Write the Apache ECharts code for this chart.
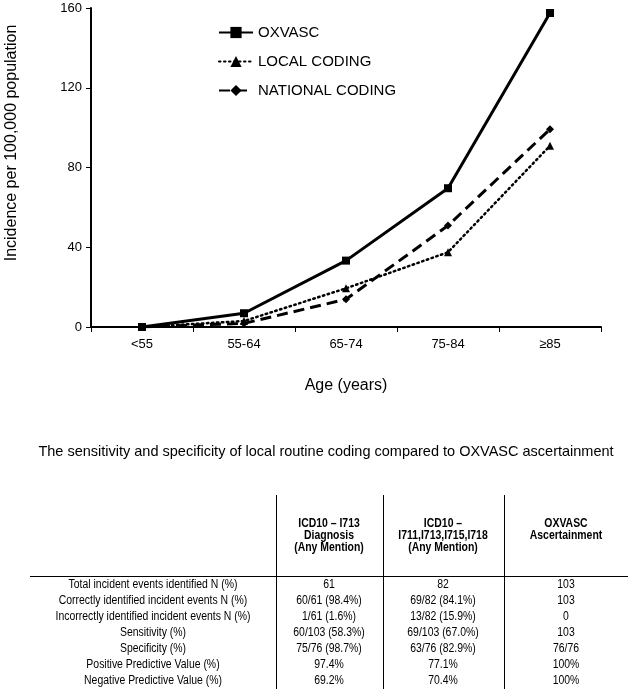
<!DOCTYPE html>
<html>
<head>
<meta charset="utf-8">
<style>
html,body{margin:0;padding:0;background:#fff;}
#chart{width:628px;height:689px;}
</style>
<script src="https://cdn.jsdelivr.net/npm/echarts@6/dist/echarts.min.js"></script>
</head>
<body>
<div id="chart"></div>
<script>
// ---- data ----
var categories = ['<55', '55-64', '65-74', '75-84', '\u226585'];
var oxvasc = [0, 6.9, 33.3, 69.6, 157.5];
var localCoding = [0, 3.0, 19.4, 37.5, 90.9];
var nationalCoding = [0, 1.8, 13.9, 50.9, 99.2];
var yTicks = [0, 40, 80, 120, 160];

var tableTitle = 'The sensitivity and specificity of local routine coding compared to OXVASC ascertainment';
var colHeaders = [
  ['ICD10 \u2013 I713', 'Diagnosis', '(Any Mention)'],
  ['ICD10 \u2013', 'I711,I713,I715,I718', '(Any Mention)'],
  ['OXVASC', 'Ascertainment']
];
var rowLabels = [
  'Total incident events identified N (%)',
  'Correctly identified incident events N (%)',
  'Incorrectly identified incident events N (%)',
  'Sensitivity (%)',
  'Specificity (%)',
  'Positive Predictive Value (%)',
  'Negative Predictive Value (%)'
];
var colI713 = ['61', '60/61 (98.4%)', '1/61 (1.6%)', '60/103 (58.3%)', '75/76 (98.7%)', '97.4%', '69.2%'];
var colI71x = ['82', '69/82 (84.1%)', '13/82 (15.9%)', '69/103 (67.0%)', '63/76 (82.9%)', '77.1%', '70.4%'];
var colOxvasc = ['103', '103', '0', '103', '76/76', '100%', '100%'];

// ---- layout ----
var FONT = '"Liberation Sans", Arial, sans-serif';
var graphics = [];
function txt(x, y, s, opt) {
  opt = opt || {};
  graphics.push({
    type: 'text', x: x, y: y, rotation: opt.rotation || 0,
    scaleX: opt.scaleX || 1, silent: true,
    style: {
      text: s, x: 0, y: 0, align: opt.align || 'center', verticalAlign: 'middle',
      fill: '#000', font: (opt.bold ? 'bold ' : '') + (opt.size || 12) + 'px ' + FONT
    }
  });
}
function line(x1, y1, x2, y2, w) {
  graphics.push({type: 'line', silent: true, shape: {x1: x1, y1: y1, x2: x2, y2: y2},
    style: {stroke: '#000', lineWidth: w || 1}});
}

// y-axis name
txt(12, 143, 'Incidence per 100,000 population', {rotation: Math.PI / 2, size: 16});
// table title
txt(326, 452, tableTitle, {size: 14.5});
// table lines
var vLines = [276.5, 383.5, 504.5];
vLines.forEach(function (x) { line(x, 495, x, 689, 1); });
line(30, 576.5, 628, 576.5, 1);
// headers
var colX = [329, 443, 566];
var SX = 0.87;
colHeaders.forEach(function (lines, c) {
  lines.forEach(function (s, i) {
    txt(colX[c], 524 + i * 12, s, {bold: true, size: 12, scaleX: SX});
  });
});
// rows
var cols = [colI713, colI71x, colOxvasc];
rowLabels.forEach(function (lab, r) {
  var y = 585 + r * 16;
  txt(153, y, lab, {size: 12, scaleX: SX});
  cols.forEach(function (col, c) {
    txt(colX[c], y, col[r], {size: 12, scaleX: SX});
  });
});

var chart = echarts.init(document.getElementById('chart'), null, {renderer: 'canvas'});
chart.setOption({
  backgroundColor: '#fff',
  animation: false,
  textStyle: {fontFamily: FONT, color: '#000'},
  grid: {left: 91, right: 27, top: 8, bottom: 362, containLabel: false},
  legend: {
    orient: 'vertical', left: 213, top: 20,
    itemWidth: 34, itemHeight: 14, itemGap: 14,
    textStyle: {fontSize: 15, color: '#000', fontFamily: FONT},
    data: ['OXVASC', 'LOCAL CODING', 'NATIONAL CODING']
  },
  xAxis: {
    type: 'category', data: categories, boundaryGap: true,
    name: 'Age (years)', nameLocation: 'middle', nameGap: 51,
    nameTextStyle: {fontSize: 16, color: '#000', fontFamily: FONT},
    axisLine: {lineStyle: {color: '#000', width: 2}},
    axisTick: {show: true, length: 5, alignWithLabel: false, lineStyle: {color: '#000', width: 1}},
    axisLabel: {fontSize: 13, color: '#000', margin: 11, fontFamily: FONT},
    splitLine: {show: false}
  },
  yAxis: {
    type: 'value', min: yTicks[0], max: yTicks[yTicks.length - 1], interval: 40,
    axisLine: {show: true, lineStyle: {color: '#000', width: 2}},
    axisTick: {show: true, length: 5, lineStyle: {color: '#000', width: 1}},
    axisLabel: {fontSize: 13, color: '#000', margin: 9, fontFamily: FONT},
    splitLine: {show: false}
  },
  series: [
    {
      name: 'OXVASC', type: 'line', data: oxvasc,
      symbol: 'rect', symbolSize: 8, showSymbol: true,
      lineStyle: {color: '#000', width: 3, type: 'solid'},
      itemStyle: {color: '#000'}
    },
    {
      name: 'LOCAL CODING', type: 'line', data: localCoding,
      symbol: 'triangle', symbolSize: 8, showSymbol: true,
      lineStyle: {color: '#000', width: 2.5, type: [1.5, 3.5], cap: 'round'},
      itemStyle: {color: '#000'}
    },
    {
      name: 'NATIONAL CODING', type: 'line', data: nationalCoding,
      symbol: 'diamond', symbolSize: 8, showSymbol: true,
      lineStyle: {color: '#000', width: 3, type: [11, 6]},
      itemStyle: {color: '#000'}
    }
  ],
  graphic: graphics
});
</script>
</body>
</html>
